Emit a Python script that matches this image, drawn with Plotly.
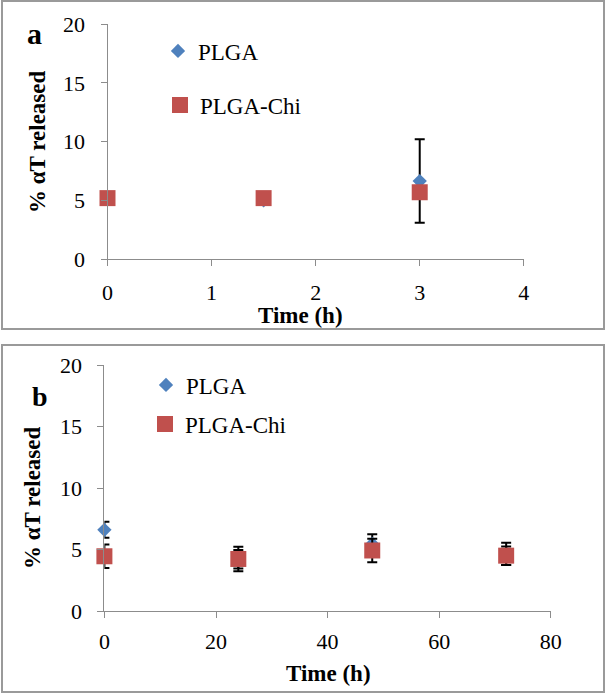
import plotly.graph_objects as go

W, H = 606, 693

# ---- data ----
time_a = [0, 1.5, 3]
plga_a = [5.2, 5.0, 6.65]
plga_a_err = [0.3, 0.3, 3.55]
chi_a = [5.2, 5.2, 5.7]
chi_a_err = [0.3, 0.3, 0.4]

time_b = [0, 24, 48, 72]
plga_b = [6.6, 4.2, 5.45, 4.65]
plga_b_err = [0.65, 0.75, 0.8, 0.9]
chi_b = [4.45, 4.23, 4.92, 4.5]
chi_b_err = [0.95, 1.0, 0.95, 0.75]

series_names = ["PLGA", "PLGA-Chi"]
x_title = "Time (h)"
y_title = "% αT released"
ticks_a = [0, 1, 2, 3, 4]
ticks_b = [0, 20, 40, 60, 80]
ticks_y = [0, 5, 10, 15, 20]

BLUE = "#4F81BD"
RED = "#C0504D"
AXC = "#8C8C8C"
FONT = "Liberation Serif"


def px(x):
    return x / W


def py(y):
    return 1 - y / H


err_style = dict(type="data", color="black", thickness=2, width=5)

fig = go.Figure()
fig.add_trace(go.Scatter(x=time_a, y=plga_a, mode="markers", name=series_names[0],
                         marker=dict(symbol="diamond", size=11, color=BLUE),
                         error_y=dict(array=plga_a_err, **err_style),
                         xaxis="x", yaxis="y", legend="legend", cliponaxis=False))
fig.add_trace(go.Scatter(x=time_a, y=chi_a, mode="markers", name=series_names[1],
                         marker=dict(symbol="square", size=16, color=RED),
                         error_y=dict(array=chi_a_err, **err_style),
                         xaxis="x", yaxis="y", legend="legend2", cliponaxis=False))
fig.add_trace(go.Scatter(x=time_b, y=plga_b, mode="markers", name=series_names[0],
                         marker=dict(symbol="diamond", size=11, color=BLUE),
                         error_y=dict(array=plga_b_err, **err_style),
                         xaxis="x2", yaxis="y2", legend="legend3", cliponaxis=False))
fig.add_trace(go.Scatter(x=time_b, y=chi_b, mode="markers", name=series_names[1],
                         marker=dict(symbol="square", size=16, color=RED),
                         error_y=dict(array=chi_b_err, **err_style),
                         xaxis="x2", yaxis="y2", legend="legend4", cliponaxis=False))

tickfont = dict(family=FONT, size=22, color="black")
axis_common = dict(showline=True, linecolor=AXC, linewidth=1, ticks="outside",
                   ticklen=6, tickcolor=AXC, tickwidth=1, showgrid=False,
                   zeroline=False, tickfont=tickfont, fixedrange=True, automargin=False)

fig.update_layout(
    width=W, height=H,
    showlegend=True,
    margin=dict(l=0, r=0, t=0, b=0, pad=0, autoexpand=False),
    paper_bgcolor="white", plot_bgcolor="white",
    xaxis=dict(domain=[px(107.5), px(523.8)], range=[0, 4], tickvals=ticks_a,
               anchor="y", ticklabelstandoff=7, **axis_common),
    yaxis=dict(domain=[py(259.3), py(24)], range=[0, 20], tickvals=ticks_y,
               anchor="x", ticklabelstandoff=11, **axis_common),
    xaxis2=dict(domain=[px(104.4), px(550.8)], range=[0, 80], tickvals=ticks_b,
                anchor="y2", ticklabelstandoff=5, **axis_common),
    yaxis2=dict(domain=[py(611), py(365)], range=[0, 20], tickvals=ticks_y,
                anchor="x2", ticklabelstandoff=11, **axis_common),
)

leg_font = dict(family=FONT, size=23, color="black")


def leg(x, y):
    return dict(x=px(x), y=py(y), xanchor="left", yanchor="middle",
                font=leg_font, bgcolor="rgba(0,0,0,0)", borderwidth=0,
                visible=True)


fig.update_layout(
    legend=leg(158, 51),
    legend2=leg(160, 105),
    legend3=leg(146, 385),
    legend4=leg(145, 424),
)

ann = []
title_font = dict(family=FONT, size=23, color="black")
ann.append(dict(text="<b>%s</b>" % x_title, x=px(300), y=py(316), xref="paper", yref="paper",
                showarrow=False, font=title_font, xanchor="center", yanchor="middle"))
ann.append(dict(text="<b>%s</b>" % x_title, x=px(328), y=py(673), xref="paper", yref="paper",
                showarrow=False, font=title_font, xanchor="center", yanchor="middle"))
ann.append(dict(text="<b>%s</b>" % y_title, x=px(37), y=py(142), xref="paper", yref="paper",
                showarrow=False, font=title_font, textangle=-90, xanchor="center", yanchor="middle"))
ann.append(dict(text="<b>%s</b>" % y_title, x=px(32), y=py(498), xref="paper", yref="paper",
                showarrow=False, font=title_font, textangle=-90, xanchor="center", yanchor="middle"))
ann.append(dict(text="<b>a</b>", x=px(34), y=py(34), xref="paper", yref="paper",
                showarrow=False, font=dict(family=FONT, size=30, color="black"),
                xanchor="center", yanchor="middle"))
ann.append(dict(text="<b>b</b>", x=px(40), y=py(396), xref="paper", yref="paper",
                showarrow=False, font=dict(family=FONT, size=28, color="black"),
                xanchor="center", yanchor="middle"))
fig.update_layout(annotations=ann)

frame = dict(type="rect", xref="paper", yref="paper", line=dict(color="#9A9A9A", width=2),
             fillcolor="rgba(0,0,0,0)", layer="below")
fig.update_layout(shapes=[
    dict(x0=px(2), x1=px(604), y0=py(329), y1=py(1), **frame),
    dict(x0=px(2), x1=px(604), y0=py(692), y1=py(345), **frame),
])

fig.write_html("out.html", config={"displayModeBar": False},
               post_script="document.body.style.margin='0';document.body.style.overflow='hidden';")
